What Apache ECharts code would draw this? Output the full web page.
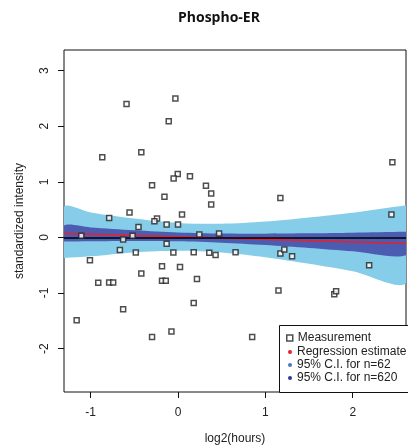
<!DOCTYPE html>
<html>
<head>
<meta charset="utf-8">
<script src="https://cdn.jsdelivr.net/npm/echarts@6/dist/echarts.min.js"></script>
<style>
html,body{margin:0;padding:0;background:#fff;}
#chart{width:408px;height:448px;}
</style>
</head>
<body>
<div id="chart"></div>
<script>
// Measurements (log2(hours), standardized intensity)
var measX = [-0.589,-0.03,-0.106,-0.867,-0.42,-0.003,-0.05,0.137,-0.297,0.32,
             0.38,-0.155,0.38,-0.555,-0.788,0.046,-0.24,-0.27,-0.13,0.0,
             -0.452,-1.107,-0.628,-0.52,0.244,0.47,-0.13,-0.665,-0.483,-0.053,
             0.18,0.358,0.43,-1.008,-0.183,0.023,-0.42,-0.913,-0.788,-0.742,
             -0.183,-0.14,0.217,0.18,-0.628,-1.16,-0.075,-0.297,0.849,1.172,
             2.454,2.443,0.659,1.172,1.217,1.306,2.188,1.15,1.789,1.81];
var measY = [2.40,2.50,2.09,1.44,1.53,1.14,1.06,1.10,0.94,0.93,
             0.79,0.73,0.59,0.45,0.35,0.41,0.34,0.29,0.23,0.23,
             0.185,0.03,-0.036,0.03,0.054,0.07,-0.115,-0.228,-0.27,-0.27,
             -0.265,-0.277,-0.318,-0.41,-0.52,-0.53,-0.65,-0.815,-0.81,-0.81,
             -0.78,-0.78,-0.75,-1.18,-1.29,-1.49,-1.69,-1.79,-1.79,0.71,
             1.35,0.41,-0.265,-0.29,-0.216,-0.34,-0.50,-0.953,-1.02,-0.97];

// Regression estimate (end points)
var regX = [-1.305, 2.61];
var regY = [0.07, -0.11];

// Confidence bands read at these x positions
var bandX      = [-1.305, -1.0, -0.5, 0, 0.5, 1.0, 1.5, 2.0, 2.61];
var ci62Upper  = [0.55, 0.45, 0.34, 0.26, 0.245, 0.285, 0.36, 0.445, 0.58];
var ci62Lower  = [-0.37, -0.34, -0.27, -0.24, -0.27, -0.355, -0.475, -0.61, -0.82];
var ci620Upper = [0.215, 0.18, 0.13, 0.09, 0.07, 0.066, 0.073, 0.085, 0.10];
var ci620Lower = [-0.075, -0.07, -0.065, -0.07, -0.095, -0.138, -0.19, -0.25, -0.32];

// Axis ticks
var xTicks = [-1, 0, 1, 2];
var yTicks = [-2, -1, 0, 1, 2, 3];

function pairs(xs, ys) { return xs.map(function (x, i) { return [x, ys[i]]; }); }
function rows(xs, lo, up) { return xs.map(function (x, i) { return [x, lo[i], up[i]]; }); }

var FONT = 'Liberation Sans, Arial, sans-serif';
var LIGHT = '#86cdea', DARK = '#4c5cb0', RED = '#e8202a';

function bandSeries(name, lo, up, color, z) {
  return {
    type: 'custom', name: name, z: z, silent: true, clip: true,
    data: rows(bandX, lo, up),
    encode: {x: 0, y: [1, 2]},
    renderItem: function (params, api) {
      if (params.dataIndex !== 0) return null;
      var n = bandX.length, top = [], bot = [], i;
      for (i = 0; i < n; i++) {
        top.push(api.coord([api.value(0, i), api.value(2, i)]));
        bot.push(api.coord([api.value(0, i), api.value(1, i)]));
      }
      var pts = [];
      for (i = 0; i < n; i++) pts.push(top[i]);
      pts.push(top[n - 1].slice());
      for (i = n - 1; i >= 0; i--) pts.push(bot[i]);
      pts.push(bot[0].slice());
      return {
        type: 'polygon',
        shape: {points: pts, smooth: 0.3},
        style: {fill: color, stroke: null}
      };
    }
  };
}

var chart = echarts.init(document.getElementById('chart'), null, {renderer: 'canvas'});
chart.setOption({
  animation: false,
  backgroundColor: '#fff',
  title: {
    text: 'Phospho-ER', left: 178, top: 11, padding: 0,
    textStyle: {fontFamily: 'Open Sans, sans-serif', fontWeight: 'bold', fontSize: 14, color: '#111'}
  },
  grid: {left: 64, top: 50, right: 2, bottom: 56, show: true, borderColor: '#111', borderWidth: 1,
         backgroundColor: 'transparent', outerBoundsMode: 'none', containLabel: false},
  xAxis: {
    type: 'value', min: -1.305, max: 2.61,
    name: 'log2(hours)', nameLocation: 'middle', nameGap: 41,
    nameTextStyle: {fontFamily: FONT, fontSize: 12, color: '#222'},
    axisLine: {show: false, onZero: false},
    splitLine: {show: false},
    axisTick: {show: true, length: 6, lineStyle: {color: '#111'}, customValues: xTicks},
    axisLabel: {fontFamily: FONT, fontSize: 12, color: '#222', margin: 15, customValues: xTicks}
  },
  yAxis: {
    type: 'value', min: -2.78, max: 3.37,
    name: 'standardized intensity', nameLocation: 'middle', nameGap: 38,
    nameTextStyle: {fontFamily: FONT, fontSize: 12, color: '#222'},
    axisLine: {show: false, onZero: false},
    splitLine: {show: false},
    axisTick: {show: true, length: 6, lineStyle: {color: '#111'}, customValues: yTicks},
    axisLabel: {fontFamily: FONT, fontSize: 12, color: '#222', margin: 13, rotate: 90, customValues: yTicks}
  },
  legend: [
    {
      left: 286, top: 332, padding: 0, orient: 'vertical', itemWidth: 6, itemHeight: 6, itemGap: 0, z: 20,
      selectedMode: false,
      textStyle: {fontFamily: FONT, fontSize: 12, color: '#222'},
      data: [{name: 'Measurement', icon: 'rect', itemStyle: {color: '#fff', borderColor: '#222', borderWidth: 1.5}}]
    },
    {
      left: 288, top: 346, padding: 0, orient: 'vertical', itemWidth: 4, itemHeight: 4, itemGap: 1, z: 20,
      selectedMode: false,
      textStyle: {fontFamily: FONT, fontSize: 12, color: '#222'},
      data: [
        {name: 'Regression estimate', icon: 'circle', itemStyle: {color: RED, borderWidth: 0}},
        {name: '95% C.I. for n=62', icon: 'circle', itemStyle: {color: '#4f74c4', borderWidth: 0}},
        {name: '95% C.I. for n=620', icon: 'circle', itemStyle: {color: '#2c3a9a', borderWidth: 0}}
      ]
    }
  ],
  graphic: [{
    type: 'rect', z: 10,
    shape: {x: 279.5, y: 325.5, width: 130, height: 67},
    style: {fill: '#fff', stroke: '#111', lineWidth: 1}
  }],
  series: [
    bandSeries('95% C.I. for n=62', ci62Lower, ci62Upper, LIGHT, 1),
    bandSeries('95% C.I. for n=620', ci620Lower, ci620Upper, DARK, 2),
    {
      type: 'line', name: 'Regression estimate', data: pairs(regX, regY), symbol: 'none',
      lineStyle: {color: RED, width: 1.5}, itemStyle: {color: RED}, z: 3, silent: true,
      markLine: {
        silent: true, symbol: ['none', 'none'], label: {show: false},
        lineStyle: {color: '#000', width: 1.6, type: 'solid'},
        data: [{yAxis: 0}]
      }
    },
    {
      type: 'scatter', name: 'Measurement', data: pairs(measX, measY),
      symbol: 'rect', symbolSize: 5,
      itemStyle: {color: '#fff', borderColor: '#222', borderWidth: 1.5}, z: 5
    }
  ]
});
</script>
</body>
</html>
